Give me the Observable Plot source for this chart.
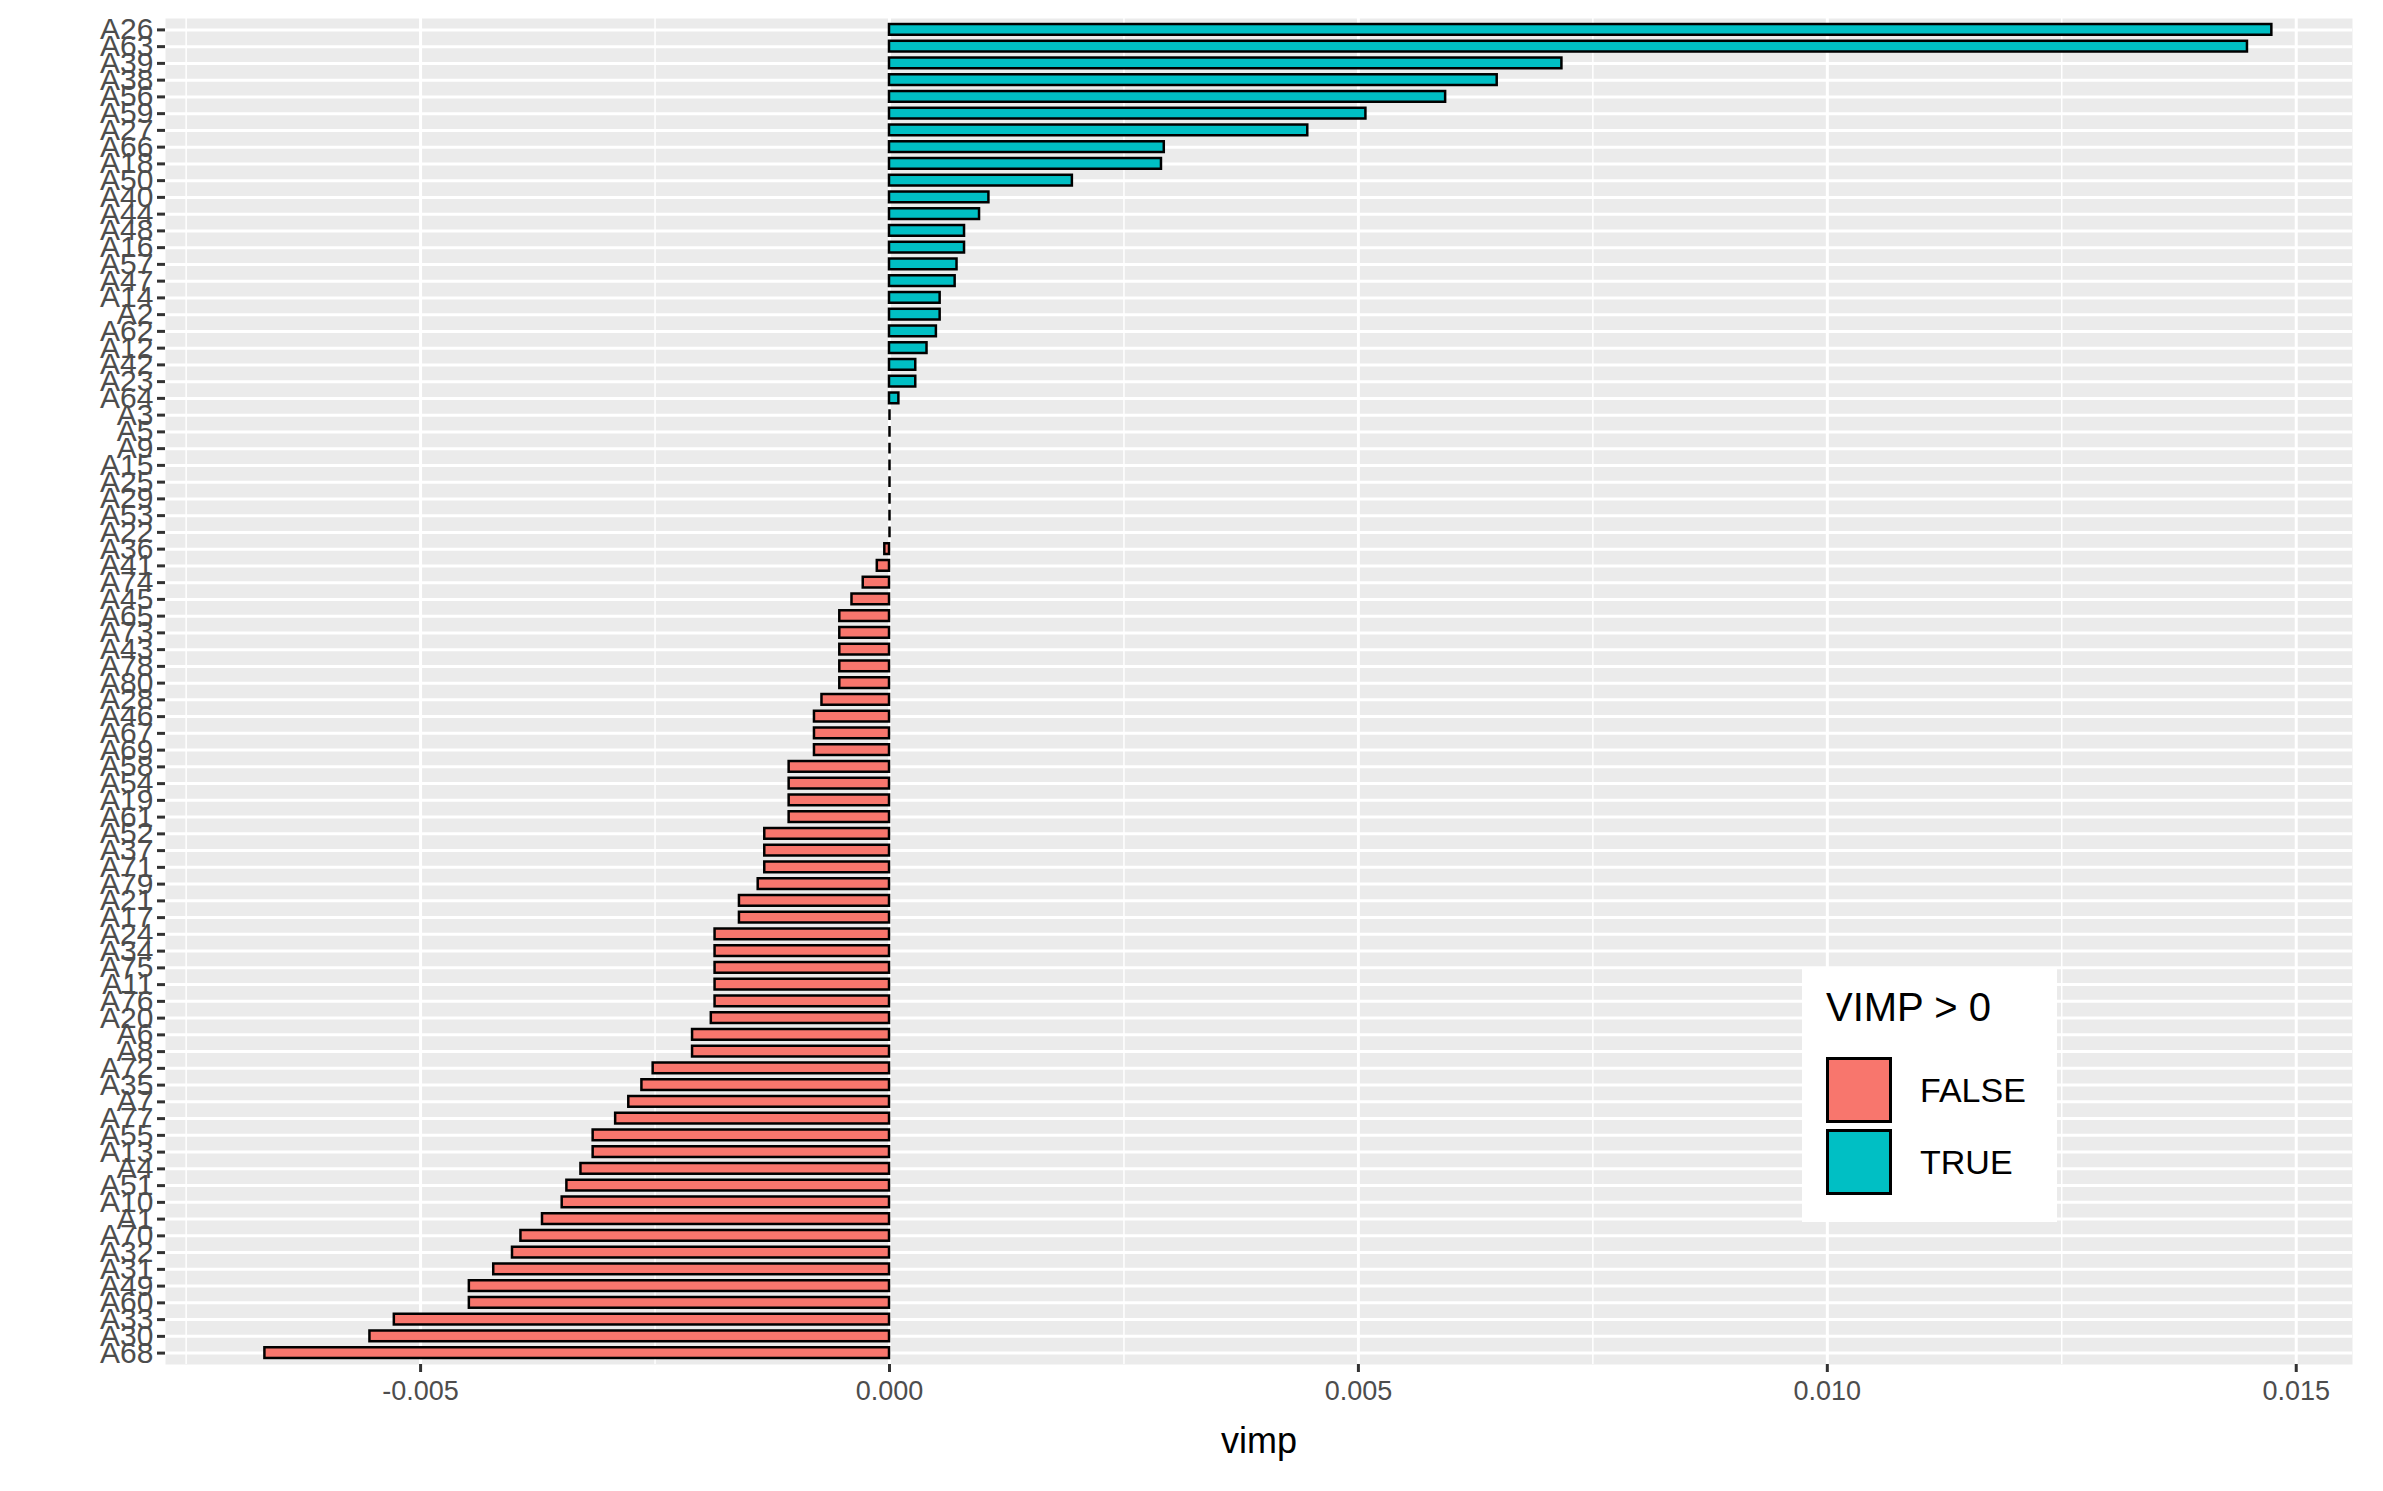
<!DOCTYPE html>
<html lang="en">
<head>
<meta charset="UTF-8">
<script src="https://cdn.jsdelivr.net/npm/d3@7"></script>
<script src="https://cdn.jsdelivr.net/npm/@observablehq/plot@0.6"></script>
<style>
  body { margin: 0; background: white; font-family: "Liberation Sans", Arial, sans-serif; }
  #wrap { position: relative; width: 2383px; height: 1491px; }
  #legend { position: absolute; left: 1802px; top: 967px; width: 255px; height: 255px; background: white; }
  #legend .t { position: absolute; left: 24px; top: 18px; font-size: 40px; color: #000; }
  #legend .k { position: absolute; left: 24px; width: 66px; height: 66px; box-sizing: border-box; border: 3px solid black; }
  #legend .l { position: absolute; left: 118px; font-size: 34px; color: #000; }
</style>
</head>
<body>
<div id="wrap">
  <div id="chart"></div>
  <div id="legend">
    <div class="t">VIMP &gt; 0</div>
    <div class="k" style="top:90px;background:#F8766D"></div><div class="l" style="top:104px">FALSE</div>
    <div class="k" style="top:162px;background:#00BFC4"></div><div class="l" style="top:176px">TRUE</div>
  </div>
</div>
<script>
// variables, top to bottom
const names = [
  "A26","A63","A39","A38","A56","A59","A27","A66","A18","A50","A40","A44","A48","A16","A57","A47","A14","A2","A62","A12","A42","A23","A64",
  "A3","A5","A9","A15","A25","A29","A53","A22",
  "A36","A41","A74","A45","A65","A73","A43","A78","A80","A28","A46","A67","A69","A58","A54","A19","A61","A52","A37","A71","A79","A21","A17",
  "A24","A34","A75","A11","A76","A20","A6","A8","A72","A35","A7","A77","A55","A13","A4","A51","A10","A1","A70","A32","A31","A49","A60","A33","A30","A68"
];
const vimp = [
  0.01474,0.01448,0.00717,0.00648,0.00593,0.00508,0.00446,0.00293,0.0029,0.00195,0.00106,0.00096,0.0008,0.0008,0.00072,0.0007,0.00054,0.00054,0.0005,0.0004,0.00028,0.00028,0.0001,
  0,0,0,0,0,0,0,0,
  -0.00005,-0.00013,-0.00028,-0.0004,-0.00053,-0.00053,-0.00053,-0.00053,-0.00053,-0.00072,-0.0008,-0.0008,-0.0008,-0.00107,-0.00107,-0.00107,-0.00107,-0.00133,-0.00133,-0.00133,-0.0014,-0.0016,-0.0016,
  -0.00186,-0.00186,-0.00186,-0.00186,-0.00186,-0.0019,-0.0021,-0.0021,-0.00252,-0.00264,-0.00278,-0.00292,-0.00316,-0.00316,-0.00329,-0.00344,-0.00349,-0.0037,-0.00393,-0.00402,-0.00422,-0.00448,-0.00448,-0.00528,-0.00554,-0.00666
];
const majorTicks = [-0.005, 0, 0.005, 0.010, 0.015];
const minorTicks = [-0.0075, -0.0025, 0.0025, 0.0075, 0.0125];

const data = names.map((n, i) => ({name: n, vimp: vimp[i], pos: vimp[i] > 0 ? "TRUE" : "FALSE"}));

const plot = Plot.plot({
  width: 2383, height: 1491,
  marginLeft: 165, marginRight: 31, marginTop: 18, marginBottom: 127,
  style: {fontFamily: "Liberation Sans, Arial, sans-serif", background: "white"},
  x: {domain: [-0.00772, 0.0156]},
  y: {domain: names, padding: 0.36, align: 0.5},
  color: {domain: ["FALSE", "TRUE"], range: ["#F8766D", "#00BFC4"]},
  marks: [
    Plot.frame({fill: "#EBEBEB", stroke: null}),
    Plot.ruleX(minorTicks, {stroke: "white", strokeWidth: 1.5}),
    Plot.ruleX(majorTicks, {stroke: "white", strokeWidth: 3}),
    Plot.tickY(names, {y: d => d, stroke: "white", strokeWidth: 3}),
    Plot.barX(data, {y: "name", x: "vimp", fill: "pos", stroke: "black", strokeWidth: 2.5}),
    Plot.tickX(data.filter(d => d.vimp === 0), {y: "name", x: "vimp", stroke: "black", strokeWidth: 2.5}),
    Plot.axisY({tickSize: 8, tickPadding: 4, fontSize: 30, color: "#4D4D4D", stroke: "#333", strokeWidth: 3, label: null}),
    Plot.axisX(majorTicks, {tickSize: 8, tickPadding: 8, fontSize: 27, color: "#4D4D4D", stroke: "#333", strokeWidth: 3,
      tickFormat: d => d.toFixed(3), label: null}),
    Plot.text(["vimp"], {frameAnchor: "bottom", dy: 88, fontSize: 36, fill: "black"})
  ]
});
document.querySelector("#chart").append(plot);
</script>
</body>
</html>
